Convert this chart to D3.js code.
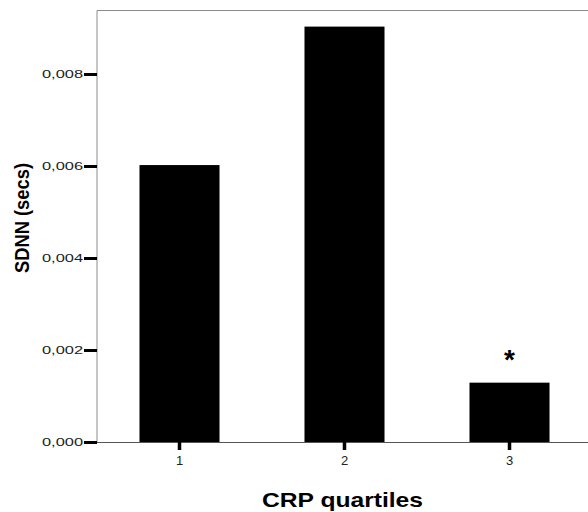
<!DOCTYPE html>
<html><head><meta charset="utf-8">
<script src="https://cdn.jsdelivr.net/npm/d3@7/dist/d3.min.js"></script>
<style>body{margin:0;background:#fff;}svg{display:block;}</style>
</head><body><svg id="c" width="588" height="512"></svg>
<script>
const categories = ["1", "2", "3"];
const values = [0.00602, 0.00903, 0.00129];
const yTicks = [0, 0.002, 0.004, 0.006, 0.008];
const annotations = ["", "", "*"];

const FONT = "Arial, 'Liberation Sans', sans-serif";
const svg = d3.select("#c");
const x0 = 97, x1 = 592, yTop = 10.5, yBot = 442;
const x = d3.scaleBand().domain(categories).range([x0, x1]).paddingInner(0.515).paddingOuter(0.2575);
const y = d3.scaleLinear().domain([0, 0.00938]).range([yBot, yTop]);

// frame
svg.append("line").attr("x1", x0).attr("x2", 588).attr("y1", yTop).attr("y2", yTop).attr("stroke", "#8c8c8c").attr("stroke-width", 1);
svg.append("line").attr("x1", x0).attr("x2", x0).attr("y1", yTop).attr("y2", yBot).attr("stroke", "#8c8c8c").attr("stroke-width", 1);

// bars
svg.selectAll("rect.bar").data(values).join("rect").attr("class", "bar")
  .attr("x", (d, i) => x(categories[i])).attr("width", x.bandwidth())
  .attr("y", d => y(d)).attr("height", d => yBot - y(d))
  .attr("fill", "#000");

// bottom axis line
svg.append("line").attr("x1", x0).attr("x2", 588).attr("y1", yBot + 0.5).attr("y2", yBot + 0.5).attr("stroke", "#555").attr("stroke-width", 1);

// y axis
const fmt = d => d3.format(".3f")(d).replace(".", ",");
const yAxis = d3.axisLeft(y).tickValues(yTicks).tickFormat(fmt).tickSize(13).tickPadding(1);
const gy = svg.append("g").attr("transform", `translate(${x0},0)`).call(yAxis);
gy.select(".domain").remove();
gy.selectAll(".tick line").attr("stroke", "#000").attr("stroke-width", 3);
gy.selectAll(".tick text").attr("font-family", FONT).attr("font-size", 11.5).attr("fill", "#222")
  .attr("textLength", 41).attr("lengthAdjust", "spacingAndGlyphs");

// x axis
const xAxis = d3.axisBottom(x).tickSize(8).tickPadding(6);
const gx = svg.append("g").attr("transform", `translate(0,${yBot})`).call(xAxis);
gx.select(".domain").remove();
gx.selectAll(".tick line").attr("stroke", "#000").attr("stroke-width", 3.5);
gx.selectAll(".tick text").attr("font-family", FONT).attr("font-size", 13).attr("fill", "#222");

// annotations
svg.selectAll("text.ann").data(values).join("text").attr("class", "ann")
  .attr("x", (d, i) => x(categories[i]) + x.bandwidth() / 2)
  .attr("y", d => y(d) - 14)
  .attr("text-anchor", "middle")
  .attr("font-family", FONT).attr("font-weight", "bold").attr("font-size", 28)
  .attr("fill", "#000")
  .text((d, i) => annotations[i]);

// axis titles
svg.append("text").attr("x", 342.5).attr("y", 506.5).attr("text-anchor", "middle")
  .attr("font-family", FONT).attr("font-weight", "bold").attr("font-size", 21)
  .attr("textLength", 161).attr("lengthAdjust", "spacingAndGlyphs")
  .text("CRP quartiles");
svg.append("text").attr("transform", "translate(29,218) rotate(-90)").attr("text-anchor", "middle")
  .attr("font-family", FONT).attr("font-weight", "bold").attr("font-size", 20)
  .attr("textLength", 110).attr("lengthAdjust", "spacingAndGlyphs")
  .text("SDNN (secs)");
</script></body></html>
